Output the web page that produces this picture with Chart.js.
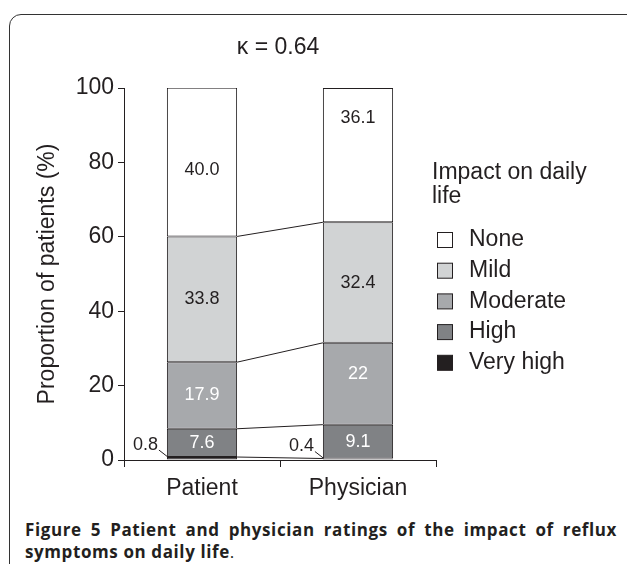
<!DOCTYPE html>
<html>
<head>
<meta charset="utf-8">
<script src="https://cdn.jsdelivr.net/npm/chart.js@4.4.0/dist/chart.umd.min.js"></script>
<style>
  html, body { margin: 0; padding: 0; background: #fff; }
  body { width: 627px; height: 573px; position: relative; overflow: hidden; }
  #clip { position: absolute; left: 0; top: 0; width: 627px; height: 564px; overflow: hidden; }
  #frame {
    position: absolute; left: 9px; top: 14px; width: 640px; height: 580px;
    border: 1.5px solid #333; border-radius: 12px; box-sizing: border-box;
  }
  #wrap { position: absolute; left: 0; top: 0; width: 627px; height: 505px; }
  #caption {
    position: absolute; left: 25px; top: 519px; width: 592px;
    font-family: "Open Sans", sans-serif; font-size: 17px; line-height: 22px;
    letter-spacing: 0.6px; text-align: justify; color: #231f20;
  }
  #caption b { font-weight: 700; }
</style>
</head>
<body>
<div id="clip"><div id="frame"></div></div>
<div id="wrap"><canvas id="chart" width="627" height="505"></canvas></div>
<div id="caption"><b>Figure 5 Patient and physician ratings of the impact of reflux symptoms on daily life</b>.</div>

<script>
// ─── Datos ────────────────────────────────────────────────────────────────────
const categorias = ['Patient', 'Physician'];
const niveles    = ['Very high', 'High', 'Moderate', 'Mild', 'None'];   // de abajo hacia arriba
const veryHigh   = [0.8, 0.4];
const high       = [7.6, 9.1];
const moderate   = [17.9, 22];
const mild       = [33.8, 32.4];
const none       = [40.0, 36.1];
const etiquetas  = [['0.8', '0.4'], ['7.6', '9.1'], ['17.9', '22'], ['33.8', '32.4'], ['40.0', '36.1']];
const yTicks     = [0, 20, 40, 60, 80, 100];
const kappa      = 'κ = 0.64';

const TINTA   = '#231f20';
const FUENTE  = '"Liberation Sans", Arial, sans-serif';
const COLORES = ['#231f20', '#808285', '#a7a9ac', '#d1d3d4', '#ffffff'];
const TEXTO_SEG = [TINTA, '#ffffff', '#ffffff', TINTA, TINTA];

// pequeños ajustes de posición de las etiquetas (como en la figura original)
const nudge = { '4-0': 8, '4-1': -37, '2-1': -10 };

const series = [veryHigh, high, moderate, mild, none];

// ─── Plugin: título, líneas de unión, etiquetas y leyenda ──────────────────────
const decoraciones = {
    id: 'decoraciones',
    afterDatasetsDraw(chart) {
        const ctx = chart.ctx;
        ctx.save();

        // líneas que unen los límites de cada segmento
        ctx.strokeStyle = TINTA;
        ctx.lineWidth = 1;
        for (let d = 0; d < series.length - 1; d++) {
            const els = chart.getDatasetMeta(d).data;
            const a = els[0], b = els[1];
            ctx.beginPath();
            ctx.moveTo(a.x + a.width / 2, a.y);
            ctx.lineTo(b.x - b.width / 2, b.y);
            ctx.stroke();
        }

        // etiquetas de valores
        ctx.font = '18px ' + FUENTE;
        ctx.textBaseline = 'middle';
        series.forEach((vals, d) => {
            chart.getDatasetMeta(d).data.forEach((el, i) => {
                const txt = etiquetas[d][i];
                if (vals[i] < 2) {
                    const left = el.x - el.width / 2;
                    ctx.fillStyle = TINTA;
                    ctx.textAlign = 'right';
                    ctx.fillText(txt, left - 9, el.y - 12);
                    ctx.beginPath();
                    ctx.moveTo(left - 8, el.y - 7);
                    ctx.lineTo(left + 1, el.y);
                    ctx.stroke();
                } else {
                    ctx.fillStyle = TEXTO_SEG[d];
                    ctx.textAlign = 'center';
                    const y = (el.y + el.base) / 2 + (nudge[d + '-' + i] || 0);
                    ctx.fillText(txt, el.x, y);
                }
            });
        });

        // título kappa
        ctx.font = '23px ' + FUENTE;
        ctx.fillStyle = TINTA;
        ctx.textAlign = 'center';
        ctx.fillText(kappa, 278, 48);

        // leyenda
        ctx.textAlign = 'left';
        ctx.fillText('Impact on daily', 432, 173);
        ctx.fillText('life', 432, 197);
        for (let k = 0; k < niveles.length; k++) {
            const d = niveles.length - 1 - k;
            const y = 240 + k * 30.7;
            ctx.fillStyle = COLORES[d];
            ctx.fillRect(437.5, y - 7.5, 15, 15);
            ctx.strokeStyle = TINTA;
            ctx.strokeRect(437.5, y - 7.5, 15, 15);
            ctx.fillStyle = TINTA;
            ctx.fillText(niveles[d], 469, y);
        }
        ctx.restore();
    }
};

// ─── Gráfico ──────────────────────────────────────────────────────────────────
new Chart(document.getElementById('chart'), {
    type: 'bar',
    data: {
        labels: categorias,
        datasets: series.map((vals, d) => ({
            label: niveles[d],
            data: vals,
            backgroundColor: COLORES[d],
            borderColor: TINTA,
            borderWidth: 1,
            borderSkipped: false,
            barPercentage: 0.45,
            categoryPercentage: 1
        }))
    },
    options: {
        responsive: false,
        animation: false,
        events: [],
        layout: { padding: { left: 0, top: 88, right: 191, bottom: 0 } },
        plugins: { legend: { display: false }, tooltip: { enabled: false } },
        scales: {
            x: {
                stacked: true,
                grid: { drawOnChartArea: false, tickLength: 7, color: TINTA, offset: true },
                border: { color: TINTA, width: 1 },
                ticks: { color: TINTA, font: { size: 23, family: FUENTE }, padding: 8 },
                afterFit: s => { s.height = 45; }
            },
            y: {
                stacked: true,
                min: 0, max: 100,
                afterBuildTicks: s => { s.ticks = yTicks.map(v => ({ value: v })); },
                grid: { drawOnChartArea: false, tickLength: 6, color: TINTA },
                border: { color: TINTA, width: 1 },
                ticks: { color: TINTA, font: { size: 23, family: FUENTE }, padding: 4 },
                title: {
                    display: true, text: 'Proportion of patients (%)', color: TINTA,
                    font: { size: 23, family: FUENTE }, padding: { top: 34, bottom: 0 }
                },
                afterFit: s => { s.width = 124; }
            }
        }
    },
    plugins: [decoraciones]
});
</script>
</body>
</html>
